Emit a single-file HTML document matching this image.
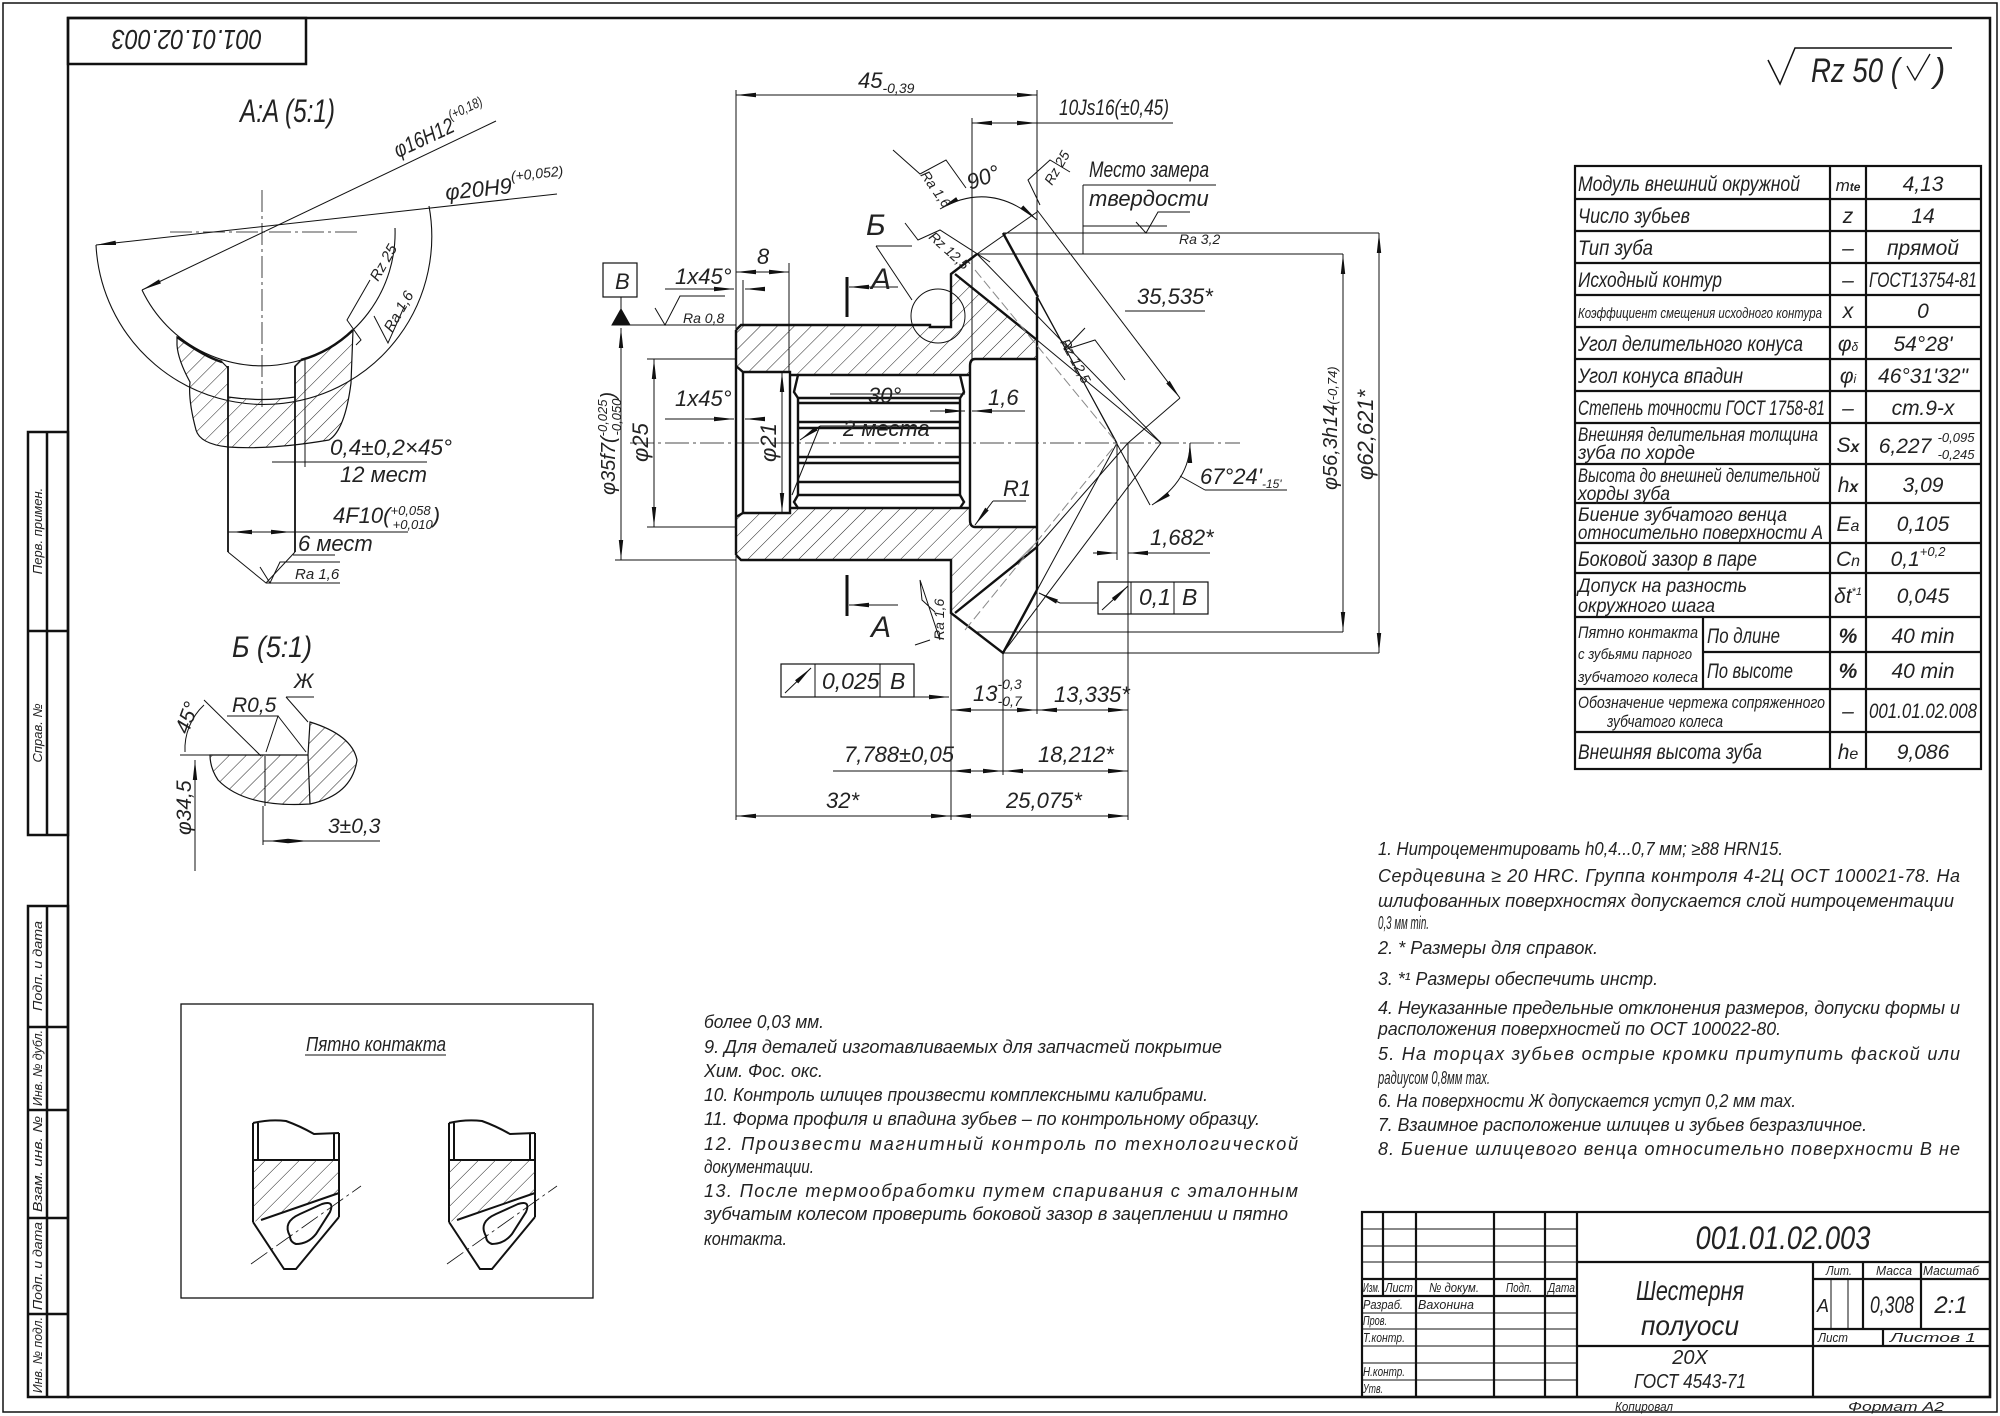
<!DOCTYPE html>
<html><head><meta charset="utf-8">
<style>
html,body{margin:0;padding:0;background:#fff;}
svg{display:block;}
text{font-family:"Liberation Sans Narrow","Liberation Sans",sans-serif;font-style:italic;fill:#222;}
</style></head>
<body>
<svg width="2000" height="1416" viewBox="0 0 2000 1416" xmlns="http://www.w3.org/2000/svg">
<defs>
<pattern id="h" width="12" height="12" patternUnits="userSpaceOnUse" patternTransform="rotate(45)">
<line x1="0" y1="0" x2="0" y2="12" stroke="#222" stroke-width="1"/>
</pattern>
<marker id="ar" viewBox="0 0 20 6" refX="20" refY="3" markerWidth="20" markerHeight="6" orient="auto-start-reverse" markerUnits="userSpaceOnUse">
<path d="M0,0.8 L20,3 L0,5.2 Z" fill="#111"/>
</marker>
</defs>
<rect width="2000" height="1416" fill="#fff"/>
<g fill="none" stroke="#111">
<rect x="3" y="3" width="1994" height="1409" stroke-width="1.5"/>
<rect x="68" y="18" width="1922" height="1379" stroke-width="2.5"/>
<rect x="68" y="18" width="238" height="46" stroke-width="2.5"/>
<g stroke-width="2.5">
<rect x="28" y="432" width="40" height="403"/>
<line x1="47" y1="432" x2="47" y2="835"/>
<line x1="28" y1="631" x2="68" y2="631"/>
<rect x="28" y="906" width="40" height="491"/>
<line x1="47" y1="906" x2="47" y2="1397"/>
<line x1="28" y1="1027" x2="68" y2="1027"/>
<line x1="28" y1="1110" x2="68" y2="1110"/>
<line x1="28" y1="1218" x2="68" y2="1218"/>
<line x1="28" y1="1314" x2="68" y2="1314"/>
</g>
</g>
<text transform="translate(187,30) rotate(180)" font-size="28" text-anchor="middle" textLength="150" lengthAdjust="spacingAndGlyphs">001.01.02.003</text>
<g font-size="13" text-anchor="middle">
<text transform="translate(42,531) rotate(-90)">Перв. примен.</text>
<text transform="translate(42,733) rotate(-90)">Справ. №</text>
<text transform="translate(42,966) rotate(-90)" textLength="90" lengthAdjust="spacingAndGlyphs">Подп. и дата</text>
<text transform="translate(42,1068) rotate(-90)" textLength="76" lengthAdjust="spacingAndGlyphs">Инв. № дубл.</text>
<text transform="translate(42,1164) rotate(-90)" textLength="96" lengthAdjust="spacingAndGlyphs">Взам. инв. №</text>
<text transform="translate(42,1266) rotate(-90)" textLength="88" lengthAdjust="spacingAndGlyphs">Подп. и дата</text>
<text transform="translate(42,1355) rotate(-90)" textLength="76" lengthAdjust="spacingAndGlyphs">Инв. № подл.</text>
</g>

<path d="M1768,60 L1780,84 L1795,48 L1952,48" fill="none" stroke="#111" stroke-width="1.5"/>
<text x="1811" y="82" font-size="34" textLength="89" lengthAdjust="spacingAndGlyphs">Rz 50 (</text>
<path d="M1907,66 L1915,80 L1930,54" fill="none" stroke="#111" stroke-width="1.3"/>
<text x="1934" y="82" font-size="34">)</text>

<g fill="none" stroke="#111" stroke-width="2.2">
<rect x="1575" y="166" width="406" height="603"/>
<line x1="1830" y1="166" x2="1830" y2="769"/>
<line x1="1866" y1="166" x2="1866" y2="769"/>
<line x1="1703" y1="617" x2="1703" y2="689"/>
<path d="M1575,199H1981M1575,231H1981M1575,263H1981M1575,295H1981M1575,327H1981M1575,359H1981M1575,391H1981M1575,423H1981M1575,464H1981M1575,503H1981M1575,543H1981M1575,573H1981M1575,617H1981M1703,652H1981M1575,689H1981M1575,732H1981"/>
</g>
<g font-size="21">
<text x="1578" y="191" textLength="222" lengthAdjust="spacingAndGlyphs">Модуль внешний окружной</text>
<text x="1578" y="223" textLength="112" lengthAdjust="spacingAndGlyphs">Число зубьев</text>
<text x="1578" y="255" textLength="75" lengthAdjust="spacingAndGlyphs">Тип зуба</text>
<text x="1578" y="287" textLength="144" lengthAdjust="spacingAndGlyphs">Исходный контур</text>
<text x="1578" y="318" font-size="15" textLength="244" lengthAdjust="spacingAndGlyphs">Коэффициент смещения исходного контура</text>
<text x="1578" y="351" textLength="225" lengthAdjust="spacingAndGlyphs">Угол делительного конуса</text>
<text x="1578" y="383" textLength="165" lengthAdjust="spacingAndGlyphs">Угол конуса впадин</text>
<text x="1578" y="415" textLength="247" lengthAdjust="spacingAndGlyphs">Степень точности ГОСТ 1758-81</text>
<text x="1578" y="441" font-size="19" textLength="240" lengthAdjust="spacingAndGlyphs">Внешняя делительная толщина</text>
<text x="1578" y="459" font-size="19" textLength="117" lengthAdjust="spacingAndGlyphs">зуба по хорде</text>
<text x="1578" y="482" font-size="19" textLength="242" lengthAdjust="spacingAndGlyphs">Высота до внешней делительной</text>
<text x="1578" y="500" font-size="19" textLength="92" lengthAdjust="spacingAndGlyphs">хорды зуба</text>
<text x="1578" y="521" font-size="19" textLength="209" lengthAdjust="spacingAndGlyphs">Биение зубчатого венца</text>
<text x="1578" y="539" font-size="19" textLength="245" lengthAdjust="spacingAndGlyphs">относительно поверхности А</text>
<text x="1578" y="566" textLength="179" lengthAdjust="spacingAndGlyphs">Боковой зазор в паре</text>
<text x="1578" y="592" font-size="19" textLength="169" lengthAdjust="spacingAndGlyphs">Допуск на разность</text>
<text x="1578" y="612" font-size="19" textLength="137" lengthAdjust="spacingAndGlyphs">окружного шага</text>
<text x="1578" y="638" font-size="17" textLength="120" lengthAdjust="spacingAndGlyphs">Пятно контакта</text>
<text x="1578" y="659" font-size="15" textLength="114" lengthAdjust="spacingAndGlyphs">с зубьями парного</text>
<text x="1578" y="682" font-size="15" textLength="120" lengthAdjust="spacingAndGlyphs">зубчатого колеса</text>
<text x="1707" y="643" textLength="73" lengthAdjust="spacingAndGlyphs">По длине</text>
<text x="1707" y="678" textLength="86" lengthAdjust="spacingAndGlyphs">По высоте</text>
<text x="1578" y="708" font-size="17" textLength="247" lengthAdjust="spacingAndGlyphs">Обозначение чертежа сопряженного</text>
<text x="1607" y="727" font-size="17" textLength="116" lengthAdjust="spacingAndGlyphs">зубчатого колеса</text>
<text x="1578" y="759" textLength="184" lengthAdjust="spacingAndGlyphs">Внешняя высота зуба</text>
</g>
<g font-size="21" text-anchor="middle">
<text x="1848" y="191" font-size="17">m<tspan font-size="12" font-weight="bold">te</tspan></text>
<text x="1848" y="223">z</text><text x="1848" y="255">–</text><text x="1848" y="287">–</text>
<text x="1848" y="318">x</text><text x="1848" y="351">φ<tspan font-size="12">δ</tspan></text>
<text x="1848" y="383">φ<tspan font-size="12">i</tspan></text><text x="1848" y="415">–</text>
<text x="1848" y="452">S<tspan font-weight="bold" font-size="16">x</tspan></text>
<text x="1848" y="492">h<tspan font-weight="bold" font-size="16">x</tspan></text>
<text x="1848" y="531">E<tspan font-size="16">a</tspan></text>
<text x="1848" y="566">C<tspan font-size="16">n</tspan></text>
<text x="1848" y="603">δt<tspan font-size="11" dy="-8">*1</tspan></text>
<text x="1848" y="643" font-weight="bold">%</text><text x="1848" y="678" font-weight="bold">%</text>
<text x="1848" y="718">–</text>
<text x="1848" y="759">h<tspan font-size="16">e</tspan></text>
<text x="1923" y="191">4,13</text><text x="1923" y="223">14</text><text x="1923" y="255">прямой</text>
<text x="1923" y="287" textLength="108" lengthAdjust="spacingAndGlyphs">ГОСТ13754-81</text>
<text x="1923" y="318">0</text><text x="1923" y="351">54°28'</text><text x="1923" y="383">46°31'32"</text>
<text x="1923" y="415">ст.9-x</text>
<text x="1905" y="453">6,227</text>
<text x="1956" y="442" font-size="13">-0,095</text><text x="1956" y="459" font-size="13">-0,245</text>
<text x="1923" y="492">3,09</text><text x="1923" y="531">0,105</text>
<text x="1918" y="566">0,1<tspan font-size="13" dy="-10">+0,2</tspan></text>
<text x="1923" y="603">0,045</text>
<text x="1923" y="643">40 min</text><text x="1923" y="678">40 min</text>
<text x="1923" y="718" textLength="108" lengthAdjust="spacingAndGlyphs">001.01.02.008</text>
<text x="1923" y="759">9,086</text>
</g>

<g fill="none" stroke="#111" stroke-width="2.2">
<rect x="1362" y="1212" width="628" height="185"/>
<line x1="1577" y1="1212" x2="1577" y2="1397"/>
<line x1="1383" y1="1212" x2="1383" y2="1296"/>
<line x1="1416" y1="1212" x2="1416" y2="1397"/>
<line x1="1494" y1="1212" x2="1494" y2="1397"/>
<line x1="1545" y1="1212" x2="1545" y2="1397"/>
<line x1="1577" y1="1262" x2="1990" y2="1262"/>
<line x1="1577" y1="1346" x2="1990" y2="1346"/>
<line x1="1813" y1="1262" x2="1813" y2="1397"/>
<line x1="1813" y1="1279" x2="1990" y2="1279"/>
<line x1="1813" y1="1329" x2="1990" y2="1329"/>
<line x1="1863" y1="1262" x2="1863" y2="1329"/>
<line x1="1921" y1="1262" x2="1921" y2="1329"/>
<line x1="1883" y1="1329" x2="1883" y2="1346"/>
<line x1="1362" y1="1279" x2="1577" y2="1279"/>
<line x1="1362" y1="1296" x2="1577" y2="1296"/>
</g>
<g fill="none" stroke="#111" stroke-width="1">
<path d="M1362,1229H1577M1362,1246H1577M1362,1262H1577M1362,1313H1577M1362,1329H1577M1362,1346H1577M1362,1363H1577M1362,1380H1577"/>
<line x1="1831" y1="1279" x2="1831" y2="1329"/><line x1="1848" y1="1279" x2="1848" y2="1329"/>
</g>
<g font-size="13">
<text x="1363" y="1292" textLength="17" lengthAdjust="spacingAndGlyphs">Изм.</text>
<text x="1385" y="1292" textLength="28" lengthAdjust="spacingAndGlyphs">Лист</text>
<text x="1429" y="1292" textLength="50" lengthAdjust="spacingAndGlyphs">№ докум.</text>
<text x="1506" y="1292" textLength="26" lengthAdjust="spacingAndGlyphs">Подп.</text>
<text x="1548" y="1292" textLength="27" lengthAdjust="spacingAndGlyphs">Дата</text>
<text x="1363" y="1309" textLength="40" lengthAdjust="spacingAndGlyphs">Разраб.</text>
<text x="1418" y="1309" textLength="56" lengthAdjust="spacingAndGlyphs">Вахонина</text>
<text x="1363" y="1325" textLength="24" lengthAdjust="spacingAndGlyphs">Пров.</text>
<text x="1363" y="1342" textLength="42" lengthAdjust="spacingAndGlyphs">Т.контр.</text>
<text x="1363" y="1376" textLength="42" lengthAdjust="spacingAndGlyphs">Н.контр.</text>
<text x="1363" y="1393" textLength="20" lengthAdjust="spacingAndGlyphs">Утв.</text>
<text x="1826" y="1275" textLength="26" lengthAdjust="spacingAndGlyphs">Лит.</text>
<text x="1876" y="1275" textLength="36" lengthAdjust="spacingAndGlyphs">Масса</text>
<text x="1923" y="1275" textLength="56" lengthAdjust="spacingAndGlyphs">Масштаб</text>
<text x="1818" y="1342" textLength="30" lengthAdjust="spacingAndGlyphs">Лист</text>
<text x="1890" y="1342" textLength="86" lengthAdjust="spacingAndGlyphs">Листов     1</text>
<text x="1615" y="1411" textLength="58" lengthAdjust="spacingAndGlyphs">Копировал</text>
<text x="1848" y="1411" textLength="96" lengthAdjust="spacingAndGlyphs">Формат     A2</text>
</g>
<text x="1783" y="1249" font-size="32" text-anchor="middle" textLength="175" lengthAdjust="spacingAndGlyphs">001.01.02.003</text>
<text x="1690" y="1300" font-size="28" text-anchor="middle" textLength="108" lengthAdjust="spacingAndGlyphs">Шестерня</text>
<text x="1690" y="1335" font-size="28" text-anchor="middle" textLength="98" lengthAdjust="spacingAndGlyphs">полуоси</text>
<text x="1690" y="1364" font-size="20" text-anchor="middle">20X</text>
<text x="1690" y="1388" font-size="20" text-anchor="middle" textLength="112" lengthAdjust="spacingAndGlyphs">ГОСТ 4543-71</text>
<text x="1817" y="1312" font-size="18">A</text>
<text x="1892" y="1313" font-size="24" text-anchor="middle" textLength="44" lengthAdjust="spacingAndGlyphs">0,308</text>
<text x="1951" y="1313" font-size="24" text-anchor="middle">2:1</text>

<g font-size="18">
<text x="1378" y="855" textLength="405" lengthAdjust="spacingAndGlyphs">1. Нитроцементировать  h0,4...0,7  мм;  ≥88  HRN15.</text>
<text x="1378" y="882" textLength="582" lengthAdjust="spacing">Сердцевина ≥ 20 HRC. Группа контроля 4-2Ц ОСТ 100021-78. На</text>
<text x="1378" y="907" textLength="576" lengthAdjust="spacing">шлифованных поверхностях допускается слой нитроцементации</text>
<text x="1378" y="929" textLength="51" lengthAdjust="spacingAndGlyphs">0,3 мм min.</text>
<text x="1378" y="954" textLength="220" lengthAdjust="spacingAndGlyphs">2.  * Размеры для справок.</text>
<text x="1378" y="985" textLength="280" lengthAdjust="spacingAndGlyphs">3.  *¹ Размеры обеспечить инстр.</text>
<text x="1378" y="1014" textLength="582" lengthAdjust="spacing">4. Неуказанные предельные отклонения размеров, допуски формы и</text>
<text x="1378" y="1035" textLength="403" lengthAdjust="spacingAndGlyphs">расположения поверхностей по ОСТ 100022-80.</text>
<text x="1378" y="1060" textLength="582" lengthAdjust="spacing">5. На торцах зубьев острые кромки притупить фаской или</text>
<text x="1378" y="1084" textLength="112" lengthAdjust="spacingAndGlyphs">радиусом 0,8мм max.</text>
<text x="1378" y="1107" textLength="418" lengthAdjust="spacingAndGlyphs">6. На поверхности Ж допускается уступ 0,2 мм max.</text>
<text x="1378" y="1131" textLength="489" lengthAdjust="spacingAndGlyphs">7. Взаимное расположение шлицев и зубьев безразличное.</text>
<text x="1378" y="1155" textLength="582" lengthAdjust="spacing">8. Биение шлицевого венца относительно поверхности В не</text>
</g>
<g font-size="18">
<text x="704" y="1028" textLength="120" lengthAdjust="spacingAndGlyphs">более 0,03 мм.</text>
<text x="704" y="1053" textLength="518" lengthAdjust="spacingAndGlyphs">9. Для деталей изготавливаемых для запчастей покрытие</text>
<text x="704" y="1077" textLength="119" lengthAdjust="spacingAndGlyphs">Хим. Фос. окс.</text>
<text x="704" y="1101" textLength="504" lengthAdjust="spacingAndGlyphs">10. Контроль шлицев произвести комплексными калибрами.</text>
<text x="704" y="1125" textLength="556" lengthAdjust="spacingAndGlyphs">11. Форма профиля и впадина зубьев – по контрольному образцу.</text>
<text x="704" y="1150" textLength="594" lengthAdjust="spacing">12. Произвести   магнитный   контроль   по   технологической</text>
<text x="704" y="1173" textLength="110" lengthAdjust="spacingAndGlyphs">документации.</text>
<text x="704" y="1197" textLength="594" lengthAdjust="spacing">13. После  термообработки  путем  спаривания  с  эталонным</text>
<text x="704" y="1220" textLength="584" lengthAdjust="spacingAndGlyphs">зубчатым колесом проверить боковой зазор в зацеплении и пятно</text>
<text x="704" y="1245" textLength="83" lengthAdjust="spacingAndGlyphs">контакта.</text>
</g>

<rect x="181" y="1004" width="412" height="294" fill="none" stroke="#111" stroke-width="1.3"/>
<text x="306" y="1051" font-size="20" textLength="140" lengthAdjust="spacingAndGlyphs">Пятно контакта</text>
<line x1="305" y1="1055" x2="446" y2="1055" stroke="#111" stroke-width="1"/>
<g id="tooth" fill="none" stroke="#111" stroke-width="2">
<path d="M253,1123 Q270,1119 286,1121 Q300,1126 314,1134 L339,1133"/>
<line x1="253" y1="1123" x2="253" y2="1222"/><line x1="258" y1="1123" x2="258" y2="1160"/>
<line x1="339" y1="1133" x2="339" y2="1217"/><line x1="334" y1="1133" x2="334" y2="1160"/>
<line x1="253" y1="1160" x2="339" y2="1160"/>
<path d="M253,1160 L339,1160 L339,1193 L261,1220 L253,1222 Z" fill="url(#h)" stroke-width="0"/>
<path d="M261,1220 L339,1193" stroke-width="2"/>
<path d="M253,1222 L284,1269 L296,1269 L339,1217"/>
<path d="M290,1236 Q282,1222 300,1214 L322,1204 Q335,1200 330,1212 L316,1234 Q308,1244 296,1244 Q290,1242 290,1236 Z"/>
<line x1="251" y1="1264" x2="361" y2="1186" stroke-width="0.8" stroke-dasharray="20,4,3,4"/>
</g>
<use href="#tooth" x="196" y="0"/>

<text x="240" y="122" font-size="32" textLength="95" lengthAdjust="spacingAndGlyphs">A:A (5:1)</text>
<g fill="none" stroke="#111">
<line x1="170" y1="232" x2="360" y2="232" stroke-width="0.8" stroke-dasharray="22,4,3,4"/>
<line x1="262" y1="190" x2="262" y2="407" stroke-width="0.8" stroke-dasharray="22,4,3,4"/>
<path d="M96,245 A168,168 0 1 0 429,206" stroke-width="1.1"/>
<path d="M142,290 A133,133 0 0 0 395,228" stroke-width="1.1"/>
<path d="M177,337 Q205,357 222,362 L228,368 L228,397 Q262,402 295,397 L295,366 L301,360 Q330,352 353,330 L351,383 Q345,430 329,440 Q270,450 228,447 Q200,444 196,430 Q188,400 190,382 Q178,360 177,345 Z" fill="url(#h)" stroke-width="1.2"/>
<path d="M177,337 Q205,357 222,362 M301,360 Q330,352 353,330" stroke-width="2.5"/>
<line x1="228" y1="366" x2="228" y2="552" stroke-width="1.8"/>
<line x1="295" y1="366" x2="295" y2="552" stroke-width="1.8"/>
<line x1="305" y1="360" x2="305" y2="467" stroke-width="1"/>
<line x1="142" y1="290" x2="496" y2="121" stroke-width="1" marker-start="url(#ar)"/>
<line x1="96" y1="245" x2="557" y2="194" stroke-width="1" marker-start="url(#ar)"/>
<line x1="272" y1="462" x2="427" y2="462" stroke-width="1"/>
<line x1="228" y1="532" x2="408" y2="532" stroke-width="1" />
<line x1="232" y1="532" x2="265" y2="532" stroke-width="1" marker-start="url(#ar)"/>
<line x1="291" y1="532" x2="260" y2="532" stroke-width="1" marker-start="url(#ar)"/>
<path d="M228,552 L266,583 L295,552" stroke-width="1"/>
<line x1="293" y1="555" x2="335" y2="555" stroke-width="1"/>
<path d="M260,567 L270,583 L280,562 L340,562 M266,583 L340,583" stroke-width="1"/>
<path d="M356,345 L361,340 L347,320 L370,280 M374,316 L388,343 L405,305" stroke-width="1"/>
</g>
<g font-size="22">
<text transform="translate(398,158) rotate(-25)" textLength="100" lengthAdjust="spacingAndGlyphs">φ16H12<tspan font-size="14" dy="-12">(+0,18)</tspan></text>
<text transform="translate(446,200) rotate(-6)">φ20H9<tspan font-size="14" dy="-12">(+0,052)</tspan></text>
<text transform="translate(378,282) rotate(-60)" font-size="15">Rz 25</text>
<text transform="translate(392,333) rotate(-60)" font-size="15">Ra 1,6</text>
<text x="330" y="455" textLength="122" lengthAdjust="spacingAndGlyphs">0,4±0,2×45°</text>
<text x="340" y="482">12 мест</text>
<text x="333" y="523">4F10(<tspan font-size="13" dy="-8">+0,058</tspan><tspan font-size="13" dx="-38" dy="14">+0,010</tspan><tspan dy="-6">)</tspan></text>
<text x="298" y="551">6 мест</text>
<text x="295" y="579" font-size="15">Ra 1,6</text>
</g>

<text x="232" y="657" font-size="30" textLength="80" lengthAdjust="spacingAndGlyphs">Б (5:1)</text>
<g fill="none" stroke="#111">
<path d="M210,755 L308,755 L310,722 Q352,735 357,760 Q352,795 310,804 Q245,808 218,780 Q210,768 210,755 Z" fill="url(#h)" stroke-width="1.2"/>
<line x1="308" y1="755" x2="310" y2="804" stroke-width="1.2"/>
<line x1="265" y1="756" x2="265" y2="806" stroke-width="1"/>
<line x1="180" y1="755" x2="210" y2="755" stroke-width="1"/>
<line x1="204" y1="700" x2="261" y2="756" stroke-width="1"/>
<path d="M227,716 L278,716 L266,752 M278,716 L306,752 M286,697 L314,697 M286,697 L308,722" stroke-width="1"/>
<path d="M185,752 A60,60 0 0 1 204,705" stroke-width="1"/>
<line x1="195" y1="760" x2="195" y2="871" stroke-width="1" marker-start="url(#ar)"/>
<line x1="263" y1="806" x2="263" y2="845" stroke-width="1"/>
<line x1="263" y1="841" x2="380" y2="841" stroke-width="1"/>
<line x1="268" y1="841" x2="308" y2="841" stroke-width="1" marker-start="url(#ar)" marker-end="url(#ar)"/>
</g>
<g font-size="21">
<text x="294" y="688">Ж</text>
<text x="232" y="712">R0,5</text>
<text transform="translate(188,735) rotate(-70)">45°</text>
<text transform="translate(191,835) rotate(-90)">φ34,5</text>
<text x="328" y="833">3±0,3</text>
</g>

<g fill="none" stroke="#111">
<path d="M736,330 L741,325 L930,325 L930,327 L951,327 L951,274 L955,274 L1037,340 L1037,359 L970,359 L970,375 L790,375 L790,372 L743,372 L736,366 Z" fill="url(#h)" stroke-width="0"/>
<path d="M736,517 L743,513 L790,513 L790,508 L970,508 L970,527 L1037,527 L1037,547 L955,613 L951,613 L951,560 L741,560 L736,555 Z" fill="url(#h)" stroke-width="0"/>
<g stroke-width="2.4">
<path d="M736,330 L741,325 L930,325 L930,327 L951,327 L951,274 L977,254 M955,274 L1037,340"/>
<path d="M736,555 L741,560 L951,560 L951,613 L1003,653 L1037,590 M955,613 L1037,547"/>
<path d="M1003,233 L1038,297"/>
<line x1="1037" y1="297" x2="1037" y2="590"/>
<line x1="736" y1="330" x2="736" y2="555"/>
<path d="M736,366 L743,372 L790,372 L790,513 L743,513 L736,517"/>
<line x1="743" y1="372" x2="743" y2="513"/>
<path d="M790,375 L970,375 M790,508 L970,508"/>
<path d="M975,359 L1037,359 M975,527 L1037,527 M975,359 Q970,359 970,366 L970,520 Q970,527 975,527"/>
<path d="M798,375 L794,392 L798,398 L960,398 L964,392 L960,375"/>
<path d="M798,403 L960,403 M798,422 L960,422 M798,428 L960,428 M798,457 L960,457 M798,463 L960,463 M798,482 L960,482 M798,495 L960,495"/>
<path d="M798,495 L794,502 L798,508 M960,495 L964,502 L960,508"/>
<line x1="798" y1="398" x2="798" y2="495"/><line x1="960" y1="398" x2="960" y2="495"/>
</g>
<g stroke-width="1">
<line x1="630" y1="443" x2="1240" y2="443" stroke-width="0.8" stroke-dasharray="24,4,3,4"/>
<line x1="977" y1="254" x2="1037" y2="212"/>
<line x1="1003" y1="233" x2="1379" y2="233"/>
<line x1="977" y1="254" x2="1343" y2="254"/>
<line x1="1003" y1="653" x2="1379" y2="653"/>
<line x1="977" y1="632" x2="1343" y2="632"/>
<line x1="615" y1="325" x2="736" y2="325"/>
<line x1="615" y1="560" x2="736" y2="560"/>
<line x1="647" y1="359" x2="736" y2="359"/>
<line x1="647" y1="527" x2="736" y2="527"/>
<line x1="1037" y1="212" x2="1037" y2="297"/>
<line x1="1037" y1="590" x2="1037" y2="714"/>
<line x1="977" y1="254" x2="1161" y2="443"/>
<line x1="1037" y1="297" x2="1117" y2="443"/>
<line x1="1003" y1="233" x2="1150" y2="505"/>
<line x1="1003" y1="653" x2="1117" y2="443"/>
<line x1="1003" y1="653" x2="1161" y2="443"/>
<line x1="1037" y1="547" x2="1128" y2="443"/>
<line x1="1037" y1="340" x2="1161" y2="443"/>
<line x1="975" y1="270" x2="1117" y2="443" stroke-dasharray="10,4" stroke="#888"/>
<line x1="965" y1="630" x2="1117" y2="443" stroke-dasharray="10,4" stroke="#888"/>
<line x1="1117" y1="443" x2="1117" y2="560"/>
<line x1="1128" y1="443" x2="1128" y2="820"/>
<line x1="736" y1="90" x2="736" y2="820"/>
<line x1="951" y1="560" x2="951" y2="820"/>
<line x1="1003" y1="653" x2="1003" y2="775"/>
<line x1="972" y1="118" x2="972" y2="359"/>
<line x1="1037" y1="90" x2="1037" y2="212"/>
<line x1="789" y1="263" x2="789" y2="372"/>
<line x1="743" y1="280" x2="743" y2="325"/>
<circle cx="938" cy="316" r="27"/>
<path d="M912,246 L876,246 M876,246 L912,300"/>
<line x1="736" y1="95" x2="1037" y2="95" marker-start="url(#ar)" marker-end="url(#ar)"/>
<line x1="972" y1="123" x2="1037" y2="123" marker-start="url(#ar)" marker-end="url(#ar)"/>
<line x1="1037" y1="123" x2="1173" y2="123"/>
<line x1="736" y1="272" x2="789" y2="272" marker-start="url(#ar)" marker-end="url(#ar)"/>
<line x1="665" y1="289" x2="734" y2="289" marker-end="url(#ar)"/>
<line x1="765" y1="289" x2="745" y2="289" marker-end="url(#ar)"/>
<line x1="665" y1="419" x2="734" y2="419" marker-end="url(#ar)"/>
<line x1="765" y1="419" x2="745" y2="419" marker-end="url(#ar)"/>
<line x1="621" y1="328" x2="621" y2="560" marker-start="url(#ar)" marker-end="url(#ar)"/>
<line x1="654" y1="359" x2="654" y2="527" marker-start="url(#ar)" marker-end="url(#ar)"/>
<line x1="782" y1="372" x2="782" y2="513" marker-start="url(#ar)" marker-end="url(#ar)"/>
<line x1="1343" y1="254" x2="1343" y2="632" marker-start="url(#ar)" marker-end="url(#ar)"/>
<line x1="1379" y1="233" x2="1379" y2="653" marker-start="url(#ar)" marker-end="url(#ar)"/>
<line x1="1037" y1="210" x2="1180" y2="398" marker-end="url(#ar)"/>
<line x1="1125" y1="311" x2="1205" y2="311"/>
<line x1="1180" y1="398" x2="1128" y2="443"/>
<path d="M940,209 Q990,180 1037,220" marker-start="url(#ar)" marker-end="url(#ar)"/>
<path d="M1190,443 Q1190,480 1152,505" marker-start="url(#ar)" marker-end="url(#ar)"/>
<line x1="1180" y1="476" x2="1205" y2="490"/><line x1="1205" y1="490" x2="1287" y2="490"/>
<line x1="1093" y1="553" x2="1117" y2="553" marker-end="url(#ar)"/>
<line x1="1153" y1="553" x2="1128" y2="553" marker-end="url(#ar)"/>
<line x1="1128" y1="553" x2="1210" y2="553"/>
<line x1="1026" y1="501" x2="993" y2="501"/><line x1="993" y1="501" x2="975" y2="525" marker-end="url(#ar)"/>
<line x1="930" y1="411" x2="965" y2="411" marker-end="url(#ar)"/>
<line x1="1000" y1="411" x2="972" y2="411" marker-end="url(#ar)"/>
<line x1="1000" y1="411" x2="1025" y2="411"/>
<line x1="830" y1="394" x2="965" y2="394"/>
<line x1="820" y1="426" x2="917" y2="426"/>
<line x1="820" y1="426" x2="800" y2="440" marker-end="url(#ar)"/>
<line x1="820" y1="426" x2="792" y2="495"/>
<line x1="1098" y1="603" x2="1060" y2="603"/><line x1="1060" y1="603" x2="1039" y2="593" marker-end="url(#ar)"/>
<line x1="914" y1="697" x2="949" y2="697" marker-end="url(#ar)"/>
<line x1="951" y1="710" x2="1037" y2="710" marker-start="url(#ar)" marker-end="url(#ar)"/>
<line x1="1037" y1="710" x2="1128" y2="710" marker-start="url(#ar)" marker-end="url(#ar)"/>
<line x1="833" y1="771" x2="951" y2="771"/>
<line x1="951" y1="771" x2="1003" y2="771" marker-start="url(#ar)" marker-end="url(#ar)"/>
<line x1="1003" y1="771" x2="1128" y2="771" marker-start="url(#ar)" marker-end="url(#ar)"/>
<line x1="736" y1="816" x2="951" y2="816" marker-start="url(#ar)" marker-end="url(#ar)"/>
<line x1="951" y1="816" x2="1128" y2="816" marker-start="url(#ar)" marker-end="url(#ar)"/>
<path d="M1083,185 L1216,185 M1083,185 L1083,254 M1083,226 L1167,226"/>
<path d="M655,308 L665,325 L680,296 L725,296"/>
<path d="M1136,222 L1146,233 L1158,212 L1190,212"/>
<path d="M893,150 L920,174 L946,160 L966,188 M1040,205 L1028,180 L1050,160 L1070,172"/>
<path d="M905,223 L918,240 L940,230 L990,262 M1085,328 L1064,350 L1095,340 L1125,380"/>
<path d="M935,612 L922,600 L920,580 L940,640 M915,645 L930,640"/>
<line x1="847" y1="277" x2="847" y2="317" stroke-width="3"/>
<line x1="898" y1="287" x2="849" y2="287" marker-end="url(#ar)"/>
<line x1="847" y1="575" x2="847" y2="616" stroke-width="3"/>
<line x1="898" y1="605" x2="849" y2="605" marker-end="url(#ar)"/>
<rect x="603" y="263" width="34" height="34" stroke-width="1.2"/>
<line x1="621" y1="297" x2="621" y2="310"/>
<rect x="781" y="664" width="133" height="33" stroke-width="1.2"/>
<line x1="815" y1="664" x2="815" y2="697"/><line x1="880" y1="664" x2="880" y2="697"/>
<line x1="785" y1="693" x2="811" y2="668" marker-end="url(#ar)"/>
<rect x="1098" y="582" width="110" height="32" stroke-width="1.2"/>
<line x1="1131" y1="582" x2="1131" y2="614"/><line x1="1174" y1="582" x2="1174" y2="614"/>
<line x1="1102" y1="610" x2="1128" y2="586" marker-end="url(#ar)"/>
</g>
<path d="M612,325 L621,309 L630,325 Z" fill="#111"/>
</g>
<g font-size="22">
<text x="858" y="88">45<tspan font-size="14" dy="5">-0,39</tspan></text>
<text x="1059" y="115" textLength="110" lengthAdjust="spacingAndGlyphs">10Js16(±0,45)</text>
<text x="1089" y="177" textLength="120" lengthAdjust="spacingAndGlyphs">Место замера</text>
<text x="1089" y="206">твердости</text>
<text transform="translate(970,190) rotate(-20)">90°</text>
<text x="866" y="235" font-size="30">Б</text>
<text x="757" y="264">8</text>
<text x="675" y="284">1x45°</text>
<text x="675" y="406">1x45°</text>
<text x="615" y="289" font-size="22">B</text>
<text x="683" y="323" font-size="14">Ra 0,8</text>
<text x="871" y="289" font-size="30">A</text>
<text x="871" y="637" font-size="30">A</text>
<text x="868" y="403">30°</text>
<text x="843" y="436">2 места</text>
<text x="988" y="405">1,6</text>
<text x="1003" y="496">R1</text>
<text x="1137" y="304">35,535*</text>
<text x="1179" y="244" font-size="14">Ra 3,2</text>
<text x="1200" y="484">67°24'<tspan font-size="12" dy="4">-15'</tspan></text>
<text x="1150" y="545">1,682*</text>
<text x="1139" y="605" font-size="23">0,1</text><text x="1182" y="605" font-size="23">B</text>
<text x="822" y="689" font-size="23">0,025</text><text x="890" y="689" font-size="23">B</text>
<text x="973" y="701">13<tspan font-size="14" dx="0" dy="-12">-0,3</tspan><tspan font-size="14" dx="-24" dy="17">-0,7</tspan></text>
<text x="1054" y="702">13,335*</text>
<text x="844" y="762">7,788±0,05</text>
<text x="1038" y="762">18,212*</text>
<text x="826" y="808">32*</text>
<text x="1006" y="808">25,075*</text>
<text transform="translate(615,495) rotate(-90)" font-size="20">φ35f7(<tspan font-size="13" dy="-8">-0,025</tspan><tspan font-size="13" dx="-36" dy="14">-0,050</tspan><tspan dy="-6">)</tspan></text>
<text transform="translate(648,462) rotate(-90)">φ25</text>
<text transform="translate(776,462) rotate(-90)">φ21</text>
<text transform="translate(1337,490) rotate(-90)" font-size="20">φ56,3h14<tspan font-size="13">(-0,74)</tspan></text>
<text transform="translate(1373,480) rotate(-90)">φ62,621*</text>
<text transform="translate(920,175) rotate(55)" font-size="14">Ra 1,6</text>
<text transform="translate(928,238) rotate(42)" font-size="14">Rz 12,5</text>
<text transform="translate(1052,186) rotate(-60)" font-size="14">Rz 25</text>
<text transform="translate(1060,342) rotate(62)" font-size="14">Rz 12,5</text>
<text transform="translate(944,640) rotate(-90)" font-size="14">Ra 1,6</text>
</g>
</svg>
</body></html>
